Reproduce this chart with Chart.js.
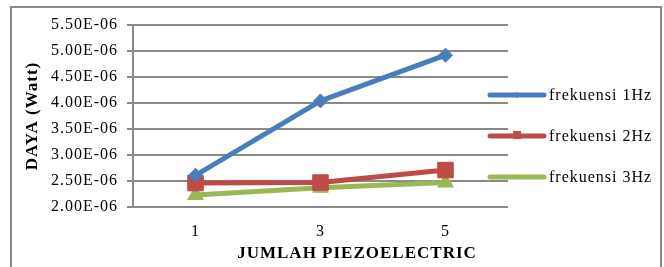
<!DOCTYPE html>
<html>
<head>
<meta charset="utf-8">
<script src="https://cdn.jsdelivr.net/npm/chart.js@4.4.0/dist/chart.umd.min.js"></script>
<style>
  html, body { margin: 0; padding: 0; background: #fff; }
  #wrap { position: relative; width: 664px; height: 267px; overflow: hidden; }
  #frame { position: absolute; left: 10px; top: 6px; width: 648px; height: 300px; border: 2px solid #8a8a8a; }
  canvas { position: absolute; left: 0; top: 0; }
</style>
</head>
<body>
<div id="wrap">
  <div id="frame"></div>
  <canvas id="chart" width="664" height="267"></canvas>
</div>
<script>
// jumlah piezoelectric
const categories = ['1', '3', '5'];

// daya (Watt) per frekuensi
const frek1Hz = [2.61e-6, 4.04e-6, 4.92e-6];
const frek2Hz = [2.46e-6, 2.47e-6, 2.71e-6];
const frek3Hz = [2.23e-6, 2.37e-6, 2.47e-6];

const seriesNames = ['frekuensi 1Hz', 'frekuensi 2Hz', 'frekuensi 3Hz'];
const seriesColors = ['#4a7ebb', '#be4b48', '#98b954'];
const yTicks = [2.0e-6, 2.5e-6, 3.0e-6, 3.5e-6, 4.0e-6, 4.5e-6, 5.0e-6, 5.5e-6];

const serif = "'Liberation Serif', 'Times New Roman', serif";
const gridColor = '#8a8a8a';

// 5.50E-06 style labels
const sciLabel = (v) => {
    const exp = Math.floor(Math.log10(Math.abs(v)) + 1e-9);
    const mant = v / Math.pow(10, exp);
    const sign = exp < 0 ? '-' : '+';
    return mant.toFixed(2) + 'E' + sign + String(Math.abs(exp)).padStart(2, '0');
};

const drawMarker = (ctx, style, x, y, r) => {
    ctx.beginPath();
    if (style === 'diamond') {
        ctx.moveTo(x, y - r); ctx.lineTo(x + r, y); ctx.lineTo(x, y + r); ctx.lineTo(x - r, y);
    } else if (style === 'square') {
        ctx.rect(x - r, y - r, r * 2, r * 2);
    } else {
        ctx.moveTo(x, y - r); ctx.lineTo(x + r, y + r * 0.7); ctx.lineTo(x - r, y + r * 0.7);
    }
    ctx.closePath();
    ctx.fill();
};

// the Word/Excel text is set a little wider than the canvas default
const wideText = {
    id: 'wideText',
    beforeUpdate(chart) { chart.ctx.letterSpacing = '1px'; },
    beforeDraw(chart) { chart.ctx.letterSpacing = '1px'; }
};

// legend drawn by hand to match the Excel look
const sideLegend = {
    id: 'sideLegend',
    afterDraw(chart) {
        const ctx = chart.ctx;
        const styles = ['diamond', 'square', 'triangle'];
        ctx.save();
        ctx.letterSpacing = '1px';
        chart.data.datasets.forEach((ds, i) => {
            const y = 95 + i * 41;
            ctx.strokeStyle = ds.borderColor;
            ctx.fillStyle = ds.borderColor;
            ctx.lineWidth = 5;
            ctx.lineCap = 'round';
            ctx.beginPath();
            ctx.moveTo(490, y);
            ctx.lineTo(544, y);
            ctx.stroke();
            drawMarker(ctx, styles[i], 517, y - (i === 1 ? 1 : 0), i === 1 ? 4 : 3);
            ctx.fillStyle = '#000';
            ctx.font = '16px ' + serif;
            ctx.textBaseline = 'middle';
            ctx.textAlign = 'left';
            ctx.fillText(seriesNames[i], 549, y + 1);
        });
        // x axis title
        ctx.font = 'bold 17px ' + serif;
        ctx.textAlign = 'center';
        ctx.fillText('JUMLAH PIEZOELECTRIC', 357, 254);
        ctx.restore();
    }
};

new Chart(document.getElementById('chart'), {
    type: 'line',
    data: {
        labels: categories,
        datasets: [
            { label: seriesNames[0], data: frek1Hz, borderColor: seriesColors[0], backgroundColor: seriesColors[0],
              pointStyle: 'rectRot', pointRadius: 7 },
            { label: seriesNames[1], data: frek2Hz, borderColor: seriesColors[1], backgroundColor: seriesColors[1],
              pointStyle: 'rect', pointRadius: 11 },
            { label: seriesNames[2], data: frek3Hz, borderColor: seriesColors[2], backgroundColor: seriesColors[2],
              pointStyle: 'triangle', pointRadius: 9 }
        ]
    },
    options: {
        responsive: false,
        animation: false,
        devicePixelRatio: 1,
        elements: {
            line: { borderWidth: 5, tension: 0, borderJoinStyle: 'round', borderCapStyle: 'round' },
            point: { borderWidth: 1, hoverRadius: 8 }
        },
        layout: { padding: { left: 0, right: 156, top: 25, bottom: 0 } },
        plugins: {
            legend: { display: false },
            tooltip: { enabled: false }
        },
        scales: {
            x: {
                offset: true,
                grid: { display: false },
                border: { display: false },
                ticks: { color: '#000', font: { family: serif, size: 16 }, padding: 7 },
                afterFit: (scale) => { scale.height = 60; }
            },
            y: {
                min: yTicks[0],
                max: yTicks[yTicks.length - 1],
                afterBuildTicks: (scale) => { scale.ticks = yTicks.map(v => ({ value: v })); },
                grid: { color: gridColor, lineWidth: 2, tickLength: 6 },
                border: { color: gridColor, width: 2 },
                ticks: { color: '#000', font: { family: serif, size: 16 }, padding: 9, callback: (v) => sciLabel(v) },
                title: {
                    display: true,
                    text: 'DAYA (Watt)',
                    color: '#000',
                    font: { family: serif, size: 17, weight: 'bold' },
                    padding: { top: 22, bottom: 0 }
                },
                afterFit: (scale) => { scale.width = 133; }
            }
        }
    },
    plugins: [wideText, sideLegend]
});
</script>
</body>
</html>
